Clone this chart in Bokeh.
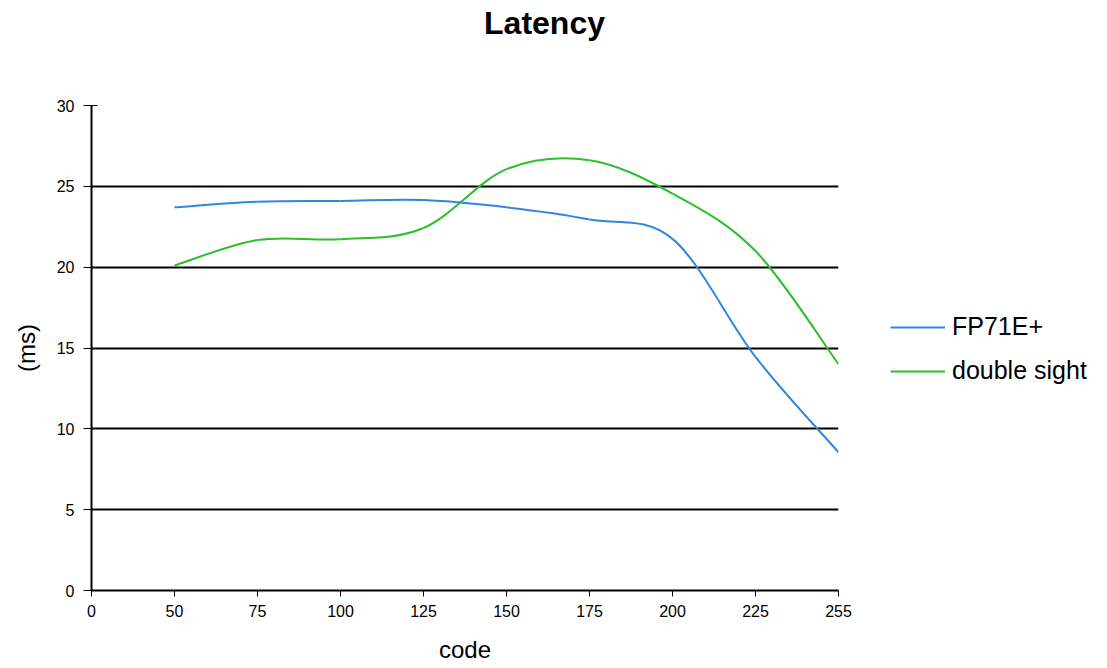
from bokeh.plotting import figure
from bokeh.models import Range1d, FixedTicker, Legend, LegendItem, Label, ColumnDataSource
from bokeh.embed import file_html
from bokeh.resources import INLINE

# ---- data ----
title_text = "Latency"
x_label = "code"
y_label = "(ms)"
code_labels = ["0", "50", "75", "100", "125", "150", "175", "200", "225", "255"]
series_codes = ["50", "75", "100", "125", "150", "175", "200", "225", "255"]
fp71_values = [23.7, 24.05, 24.1, 24.15, 23.7, 22.95, 21.75, 14.45, 8.55]
double_sight_values = [20.1, 21.68, 21.73, 22.42, 26.06, 26.62, 24.55, 21.0, 14.0]
y_ticks = [0, 5, 10, 15, 20, 25, 30]
series_names = ["FP71E+", "double sight"]
series_colors = ["#2F86E0", "#2DBE2D"]

FONT = "Liberation Sans"


def smooth_source(codes, values):
    """Bezier segments (Excel-style smoothed line) through the data points."""
    xs = [code_labels.index(c) for c in codes]
    ys = list(values)
    n = len(xs)
    d = {k: [] for k in ("x0", "y0", "x1", "y1", "cx0", "cy0", "cx1", "cy1")}
    for i in range(n - 1):
        ip = i - 1 if i > 0 else i
        inx = i + 2 if i + 2 < n else i + 1
        d["x0"].append(xs[i]); d["y0"].append(ys[i])
        d["x1"].append(xs[i + 1]); d["y1"].append(ys[i + 1])
        d["cx0"].append(xs[i] + (xs[i + 1] - xs[ip]) / 6.0)
        d["cy0"].append(ys[i] + (ys[i + 1] - ys[ip]) / 6.0)
        d["cx1"].append(xs[i + 1] - (xs[inx] - xs[i]) / 6.0)
        d["cy1"].append(ys[i + 1] - (ys[inx] - ys[i]) / 6.0)
    return ColumnDataSource(d)


p = figure(
    frame_width=747, frame_height=485,
    min_border_left=91, min_border_right=269, min_border_top=105, min_border_bottom=78,
    x_range=Range1d(0, len(code_labels) - 1), y_range=Range1d(0, 30),
    output_backend="svg", toolbar_location=None, title=None,
)
p.outline_line_color = None
p.background_fill_color = "white"
p.border_fill_color = "white"

# grid
p.xgrid.visible = False
p.ygrid.ticker = FixedTicker(ticks=y_ticks)
p.ygrid.grid_line_color = "black"
p.ygrid.grid_line_width = 2

# axes
xa = p.xaxis[0]
xa.ticker = FixedTicker(ticks=list(range(len(code_labels))))
xa.major_label_overrides = {i: lab for i, lab in enumerate(code_labels)}
xa.axis_label = x_label
ya = p.yaxis[0]
ya.ticker = FixedTicker(ticks=y_ticks)
ya.axis_label = y_label
for ax in (xa, ya):
    ax.axis_line_color = "black"
    ax.axis_line_width = 2
    ax.major_tick_line_color = "black"
    ax.major_tick_line_width = 1
    ax.minor_tick_line_color = None
    ax.major_label_text_font = FONT
    ax.major_label_text_font_size = "16px"
    ax.major_label_text_color = "black"
    ax.axis_label_text_font = FONT
    ax.axis_label_text_font_size = "24px"
    ax.axis_label_text_font_style = "normal"
    ax.axis_label_text_color = "black"
xa.major_tick_in = 0
xa.major_tick_out = 6
xa.major_label_standoff = 8
xa.axis_label_standoff = 16
ya.major_tick_in = 6
ya.major_tick_out = 8
ya.major_label_standoff = 9
ya.axis_label_standoff = 14

# series
renderers = []
for codes, vals, col in ((series_codes, fp71_values, series_colors[0]),
                         (series_codes, double_sight_values, series_colors[1])):
    src = smooth_source(codes, vals)
    r = p.bezier(x0="x0", y0="y0", x1="x1", y1="y1", cx0="cx0", cy0="cy0",
                 cx1="cx1", cy1="cy1", source=src, line_color=col, line_width=2)
    renderers.append(r)

legend = Legend(
    items=[LegendItem(label=n, renderers=[r]) for n, r in zip(series_names, renderers)],
    location=(52, 205),
    padding=0, spacing=15, margin=0,
    glyph_width=55, glyph_height=20, label_standoff=7,
    label_text_font=FONT, label_text_font_size="25px", label_text_color="black",
    border_line_color=None, background_fill_alpha=0,
)
p.add_layout(legend, "right")

title = Label(x=453, y=83, x_units="screen", y_units="screen", text=title_text,
              text_align="center", text_baseline="alphabetic",
              text_font=FONT, text_font_size="32px", text_font_style="bold",
              text_color="black")
p.add_layout(title, "above")

open("out.html", "w").write(file_html(p, INLINE))
